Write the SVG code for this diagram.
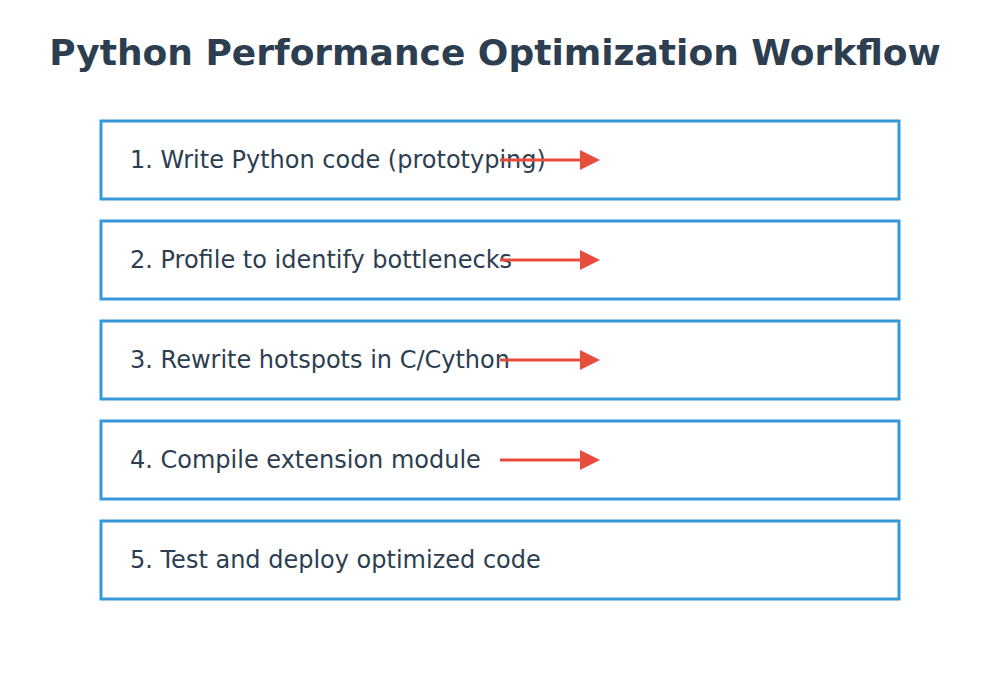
<svg xmlns="http://www.w3.org/2000/svg" width="1000" height="700" viewBox="0 0 1000 700">
<style>
.box{fill:#fff;stroke:#3498db;stroke-width:3}
.t{font-family:"DejaVu Sans",sans-serif;font-size:24px;fill:#2c3e50}
.title{font-family:"DejaVu Sans",sans-serif;font-size:36px;font-weight:bold;fill:#2c3e50}
.c{stroke:#e74c3c;stroke-width:3;fill:none;marker-end:url(#ah)}
</style>
<defs><marker id="ah" markerUnits="userSpaceOnUse" markerWidth="20" markerHeight="20" refX="0" refY="10" orient="auto"><path d="M0,0L20,10L0,20Z" fill="#e74c3c"/></marker></defs>
<rect width="1000" height="700" fill="#fff"/>
<text class="title" x="495" y="65" text-anchor="middle">Python Performance Optimization Workflow</text>
<g id="n1"><rect class="box" x="101" y="121" width="798" height="78"/><text class="t" x="130" y="168">1. Write Python code (prototyping)</text></g>
<g id="n2"><rect class="box" x="101" y="221" width="798" height="78"/><text class="t" x="130" y="268">2. Profile to identify bottlenecks</text></g>
<g id="n3"><rect class="box" x="101" y="321" width="798" height="78"/><text class="t" x="130" y="368">3. Rewrite hotspots in C/Cython</text></g>
<g id="n4"><rect class="box" x="101" y="421" width="798" height="78"/><text class="t" x="130" y="468">4. Compile extension module</text></g>
<g id="n5"><rect class="box" x="101" y="521" width="798" height="78"/><text class="t" x="130" y="568">5. Test and deploy optimized code</text></g>
<g id="connectors">
<line class="c" x1="500" y1="160" x2="580" y2="160"/>
<line class="c" x1="500" y1="260" x2="580" y2="260"/>
<line class="c" x1="500" y1="360" x2="580" y2="360"/>
<line class="c" x1="500" y1="460" x2="580" y2="460"/>
</g>
</svg>
